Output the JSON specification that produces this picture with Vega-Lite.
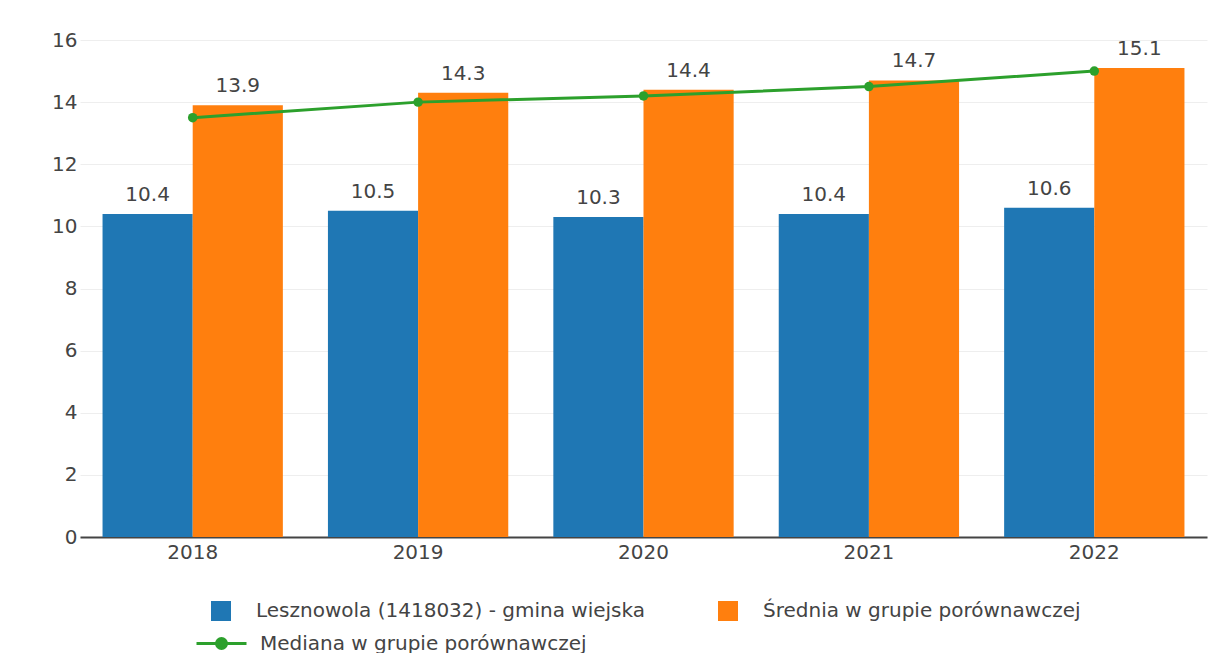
{
  "$schema": "https://vega.github.io/schema/vega-lite/v6.json",
  "width": 1127,
  "height": 497,
  "autosize": "none",
  "padding": {"left": 80, "top": 40, "right": 2, "bottom": 116},
  "background": "white",
  "config": {"view": {"stroke": null}, "font": "DejaVu Sans"},
  "datasets": {
    "bars": [
      {"year": "2018", "series": "Lesznowola (1418032) - gmina wiejska", "value": 10.4},
      {"year": "2018", "series": "Średnia w grupie porównawczej", "value": 13.9},
      {"year": "2019", "series": "Lesznowola (1418032) - gmina wiejska", "value": 10.5},
      {"year": "2019", "series": "Średnia w grupie porównawczej", "value": 14.3},
      {"year": "2020", "series": "Lesznowola (1418032) - gmina wiejska", "value": 10.3},
      {"year": "2020", "series": "Średnia w grupie porównawczej", "value": 14.4},
      {"year": "2021", "series": "Lesznowola (1418032) - gmina wiejska", "value": 10.4},
      {"year": "2021", "series": "Średnia w grupie porównawczej", "value": 14.7},
      {"year": "2022", "series": "Lesznowola (1418032) - gmina wiejska", "value": 10.6},
      {"year": "2022", "series": "Średnia w grupie porównawczej", "value": 15.1}
    ],
    "median": [
      {"year": "2018", "series": "Mediana w grupie porównawczej", "value": 13.5},
      {"year": "2019", "series": "Mediana w grupie porównawczej", "value": 14.0},
      {"year": "2020", "series": "Mediana w grupie porównawczej", "value": 14.2},
      {"year": "2021", "series": "Mediana w grupie porównawczej", "value": 14.5},
      {"year": "2022", "series": "Mediana w grupie porównawczej", "value": 15.0}
    ]
  },
  "encoding": {
    "x": {
      "field": "year", "type": "nominal",
      "scale": {"paddingInner": 0, "paddingOuter": 0},
      "axis": {
        "title": null, "labelAngle": 0, "ticks": false,
        "domainColor": "#444", "domainWidth": 2,
        "labelFontSize": 20, "labelColor": "#444", "labelPadding": 5, "grid": false
      }
    },
    "y": {
      "field": "value", "type": "quantitative",
      "scale": {"domain": [0, 16], "nice": false},
      "axis": {
        "title": null, "values": [0, 2, 4, 6, 8, 10, 12, 14, 16],
        "domain": false, "ticks": false, "gridColor": "#eeeeee", "gridWidth": 1,
        "labelFontSize": 20, "labelColor": "#444", "labelPadding": 3
      }
    }
  },
  "layer": [
    {
      "data": {"name": "bars"},
      "mark": {"type": "bar"},
      "encoding": {
        "xOffset": {"field": "series", "type": "nominal", "scale": {"paddingInner": 0, "paddingOuter": 0.25}},
        "color": {
          "field": "series", "type": "nominal",
          "scale": {"domain": ["Lesznowola (1418032) - gmina wiejska", "Średnia w grupie porównawczej"], "range": ["#1f77b4", "#ff7f0e"]},
          "legend": {
            "title": null, "orient": "none", "direction": "horizontal",
            "legendX": 131, "legendY": 561,
            "symbolType": "square", "symbolSize": 400, "symbolStrokeWidth": 0,
            "labelFontSize": 20, "labelColor": "#444", "labelOffset": 25,
            "columnPadding": 72, "labelLimit": 600
          }
        }
      }
    },
    {
      "data": {"name": "bars"},
      "mark": {"type": "text", "baseline": "bottom", "dy": -9, "fontSize": 20, "color": "#444"},
      "encoding": {
        "xOffset": {"field": "series", "type": "nominal", "scale": {"paddingInner": 0, "paddingOuter": 0.25}},
        "text": {"field": "value", "type": "quantitative", "format": ".1f"}
      }
    },
    {
      "data": {"name": "median"},
      "mark": {"type": "line", "strokeWidth": 3, "color": "#2ca02c"},
      "encoding": {
        "stroke": {
          "field": "series", "type": "nominal",
          "scale": {"domain": ["Mediana w grupie porównawczej"], "range": ["#2ca02c"]},
          "legend": {
            "title": null, "orient": "none", "legendX": 115, "legendY": 577,
            "symbolType": "M-1,0L1,0M0.2,0A0.2,0.2,0,1,1,-0.2,0A0.2,0.2,0,1,1,0.2,0Z",
            "symbolSize": 2500, "symbolStrokeWidth": 3,
            "labelFontSize": 20, "labelColor": "#444", "labelOffset": 12, "labelLimit": 600,
            "encode": {"symbols": {"update": {"fill": {"value": "#2ca02c"}, "stroke": {"value": "#2ca02c"}, "strokeWidth": {"value": 3}, "opacity": {"value": 1}}}}
          }
        }
      }
    },
    {
      "data": {"name": "median"},
      "mark": {"type": "point", "filled": true, "size": 90, "color": "#2ca02c", "opacity": 1}
    }
  ]
}
